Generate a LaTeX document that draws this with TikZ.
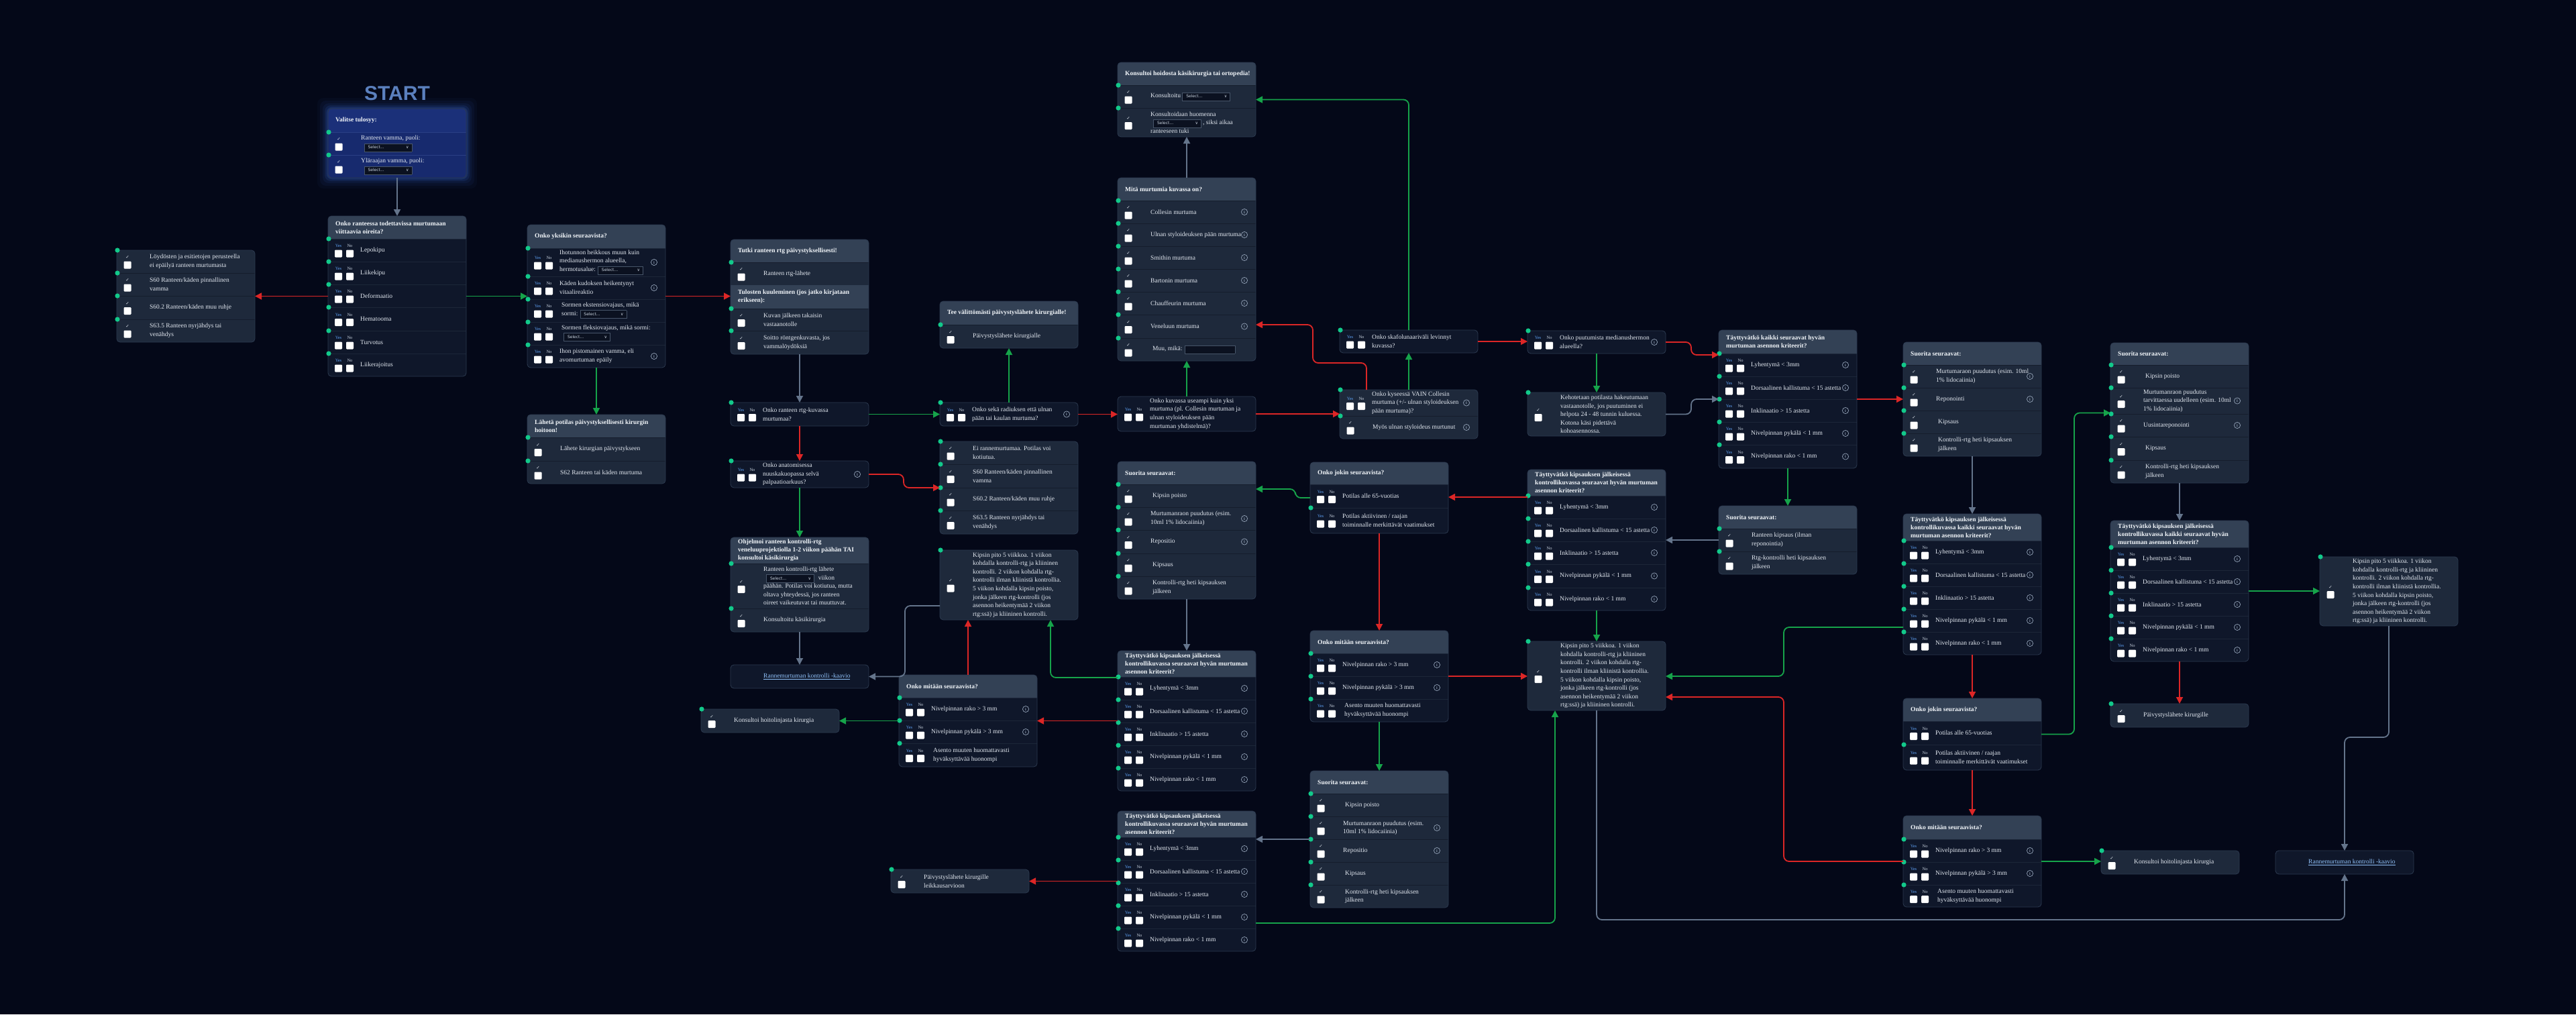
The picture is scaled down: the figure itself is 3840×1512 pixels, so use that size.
\documentclass[tikz,border=0pt]{standalone}
\usepackage{fontspec}
\setmainfont{Liberation Serif}
\newfontfamily\dejavu{DejaVu Sans}
\newfontfamily\startfont{Liberation Sans}
\usetikzlibrary{arrows.meta,calc}

\definecolor{bgcol}{HTML}{040818}
\definecolor{cardL}{HTML}{1E293B}
\definecolor{cardD}{HTML}{0F172A}
\definecolor{cardS}{HTML}{172A6E}
\definecolor{sepL}{HTML}{151D2C}
\definecolor{sepD}{HTML}{1C2638}
\definecolor{sepS}{HTML}{2A3F85}
\definecolor{hdrcol}{HTML}{334155}
\definecolor{starthdr}{HTML}{1B3079}
\definecolor{cardborder}{HTML}{2C3A50}
\definecolor{txtcol}{HTML}{E2E8F0}
\definecolor{hdrtxt}{HTML}{F1F5F9}
\definecolor{yescol}{HTML}{60A5FA}
\definecolor{nocol}{HTML}{CBD5E1}
\definecolor{dotcol}{HTML}{12C98A}
\definecolor{arrgreen}{HTML}{16A34A}
\definecolor{arrred}{HTML}{DC2626}
\definecolor{arrgray}{HTML}{64748B}
\definecolor{linkcol}{HTML}{93C5FD}
\definecolor{startcol}{HTML}{5B80BE}
\definecolor{glowcol}{HTML}{3B6FE0}
\definecolor{infocol}{HTML}{94A3B8}
\definecolor{selfill}{HTML}{0B1120}
\definecolor{selborder}{HTML}{475569}
\definecolor{seltext}{HTML}{CBD5E1}

\tikzset{
  card/.style={rectangle, rounded corners=5pt, inner sep=0pt, outer sep=0pt, draw=none},
  cardline/.style={draw=cardborder, line width=0.8pt},
  txt/.style={anchor=west, align=left, inner sep=0pt, text=txtcol, font=\fontsize{9.5}{12.6}\selectfont},
  htxt/.style={anchor=west, align=left, inner sep=0pt, text=hdrtxt, font=\bfseries\fontsize{9.5}{12}\selectfont},
  chk/.style={inner sep=0pt, text=txtcol, font=\dejavu\fontsize{6.5}{7}\selectfont},
  yn/.style={inner sep=0pt, font=\fontsize{6.5}{7}\selectfont},
  ifont/.style={inner sep=0pt, text=infocol, font=\bfseries\fontsize{6}{6}\selectfont},
  sepline/.style={draw=sepcol, line width=0.8pt},
  arr/.style={line width=1.8pt, rounded corners=8pt, -{Triangle[length=10pt,width=10pt]}},
  garr/.style={arr, draw=arrgreen},
  rarr/.style={arr, draw=arrred},
  gyarr/.style={arr, draw=arrgray}
}

\newcommand\xsel[1][66pt]{{\setlength\fboxsep{2.2pt}\setlength\fboxrule{0.6pt}\fcolorbox{selborder}{selfill}{\makebox[#1][l]{\dejavu\fontsize{6}{7}\selectfont\color{seltext}\rule[-1.8pt]{0pt}{7pt}\hspace{3pt}Select...\hfill ∨\hspace{2pt}}}}}
\newcommand\xinbox[1][70pt]{{\setlength\fboxsep{2.2pt}\setlength\fboxrule{0.6pt}\fcolorbox{selborder}{selfill}{\makebox[#1][l]{\rule[-1.8pt]{0pt}{7pt}}}}}

\protected\def\xdot#1{\fill[dotcol] ({\xcx+1},#1) circle (3.6pt);}
\newcommand\xcard[5]{\gdef\xcx{#2}\gdef\xctop{#3}\gdef\xdotlist{}\colorlet{curfill}{card#5}\colorlet{sepcol}{sep#5}%
  \node[card, fill=curfill, minimum width=206pt, minimum height={(#4-#3)*1pt}] (#1) at ({#2+103},{(#3+#4)/2}) {};}
\newcommand\xend[1]{\draw[cardline, rounded corners=5pt] (#1.north west) rectangle (#1.south east);\xdotlist}
\newcommand\xhdr[4][hdrcol]{%
  \fill[#1, rounded corners=5pt] (\xcx,#3) -- (\xcx,#2) -- ({\xcx+206},#2) -- ({\xcx+206},#3);
  \node[htxt] at ({\xcx+11},{(#2+#3)/2}) {#4};}
\newcommand\xmhdr[3]{\fill[hdrcol] (\xcx,#1) rectangle ({\xcx+206},#2);
  \node[htxt] at ({\xcx+11},{(#1+#2)/2}) {#3};}
\newcommand\xinfo[2]{\draw[infocol, line width=0.7pt] ({#1},{#2}) circle (4.6pt);
  \node[ifont] at ({#1},{#2}) {i};}
\newcommand\xcrow[5]{%
  \pgfmathsetmacro\xrc{(#1+#2)/2}%
  \ifdim#1pt>\xctop pt \draw[sepline] (\xcx,#1) -- ({\xcx+206},#1);\fi
  \node[chk] at ({\xcx+16},{\xrc-6.5}) {✓};
  \fill[white, rounded corners=1.2pt] ({\xcx+10.5},{\xrc-0.5}) rectangle ({\xcx+21.5},{\xrc+10.5});
  \node[txt] at ({\xcx+49},\xrc) {#5};
  \ifnum#4=1 \xinfo{\xcx+189}{\xrc}\fi
  \ifnum#3=1 \xdef\xdotlist{\xdotlist\xdot{#1}}\fi}
\newcommand\xyrow[5]{%
  \pgfmathsetmacro\xrc{(#1+#2)/2}%
  \ifdim#1pt>\xctop pt \draw[sepline] (\xcx,#1) -- ({\xcx+206},#1);\fi
  \node[yn, text=yescol] at ({\xcx+15.5},{\xrc-6.5}) {Yes};
  \node[yn, text=nocol] at ({\xcx+32.5},{\xrc-6.5}) {No};
  \fill[white, rounded corners=1.2pt] ({\xcx+10},{\xrc-0.5}) rectangle ({\xcx+21},{\xrc+10.5});
  \fill[white, rounded corners=1.2pt] ({\xcx+27},{\xrc-0.5}) rectangle ({\xcx+38},{\xrc+10.5});
  \node[txt] at ({\xcx+48},\xrc) {#5};
  \ifnum#4=1 \xinfo{\xcx+189}{\xrc}\fi
  \ifnum#3=1 \xdef\xdotlist{\xdotlist\xdot{#1}}\fi}
\newcommand\xlrow[2]{\node[txt, text=linkcol] at ({\xcx+49},{(#1+#2)/2}) {\underline{Rannemurtuman kontrolli -kaavio}};}
\newcommand\xcrit[6]{%
  \xyrow{#1}{#2}{1}{1}{Lyhentymä < 3mm}
  \xyrow{#2}{#3}{1}{1}{Dorsaalinen kallistuma < 15 astetta}
  \xyrow{#3}{#4}{1}{1}{Inklinaatio > 15 astetta}
  \xyrow{#4}{#5}{1}{1}{Nivelpinnan pykälä < 1 mm}
  \xyrow{#5}{#6}{1}{1}{Nivelpinnan rako < 1 mm}}
\newcommand\xsuor[6]{%
  \xcrow{#1}{#2}{1}{0}{\hspace*{3pt}Kipsin poisto}
  \xcrow{#2}{#3}{1}{1}{Murtumanraon puudutus (esim.\\10ml 1\% lidocaiinia)}
  \xcrow{#3}{#4}{1}{1}{Repositio}
  \xcrow{#4}{#5}{1}{0}{\hspace*{3pt}Kipsaus}
  \xcrow{#5}{#6}{1}{0}{\hspace*{3pt}Kontrolli-rtg heti kipsauksen\\\hspace*{3pt}jälkeen}}
\newcommand\xmitaan[4]{%
  \xyrow{#1}{#2}{1}{1}{Nivelpinnan rako > 3 mm}
  \xyrow{#2}{#3}{1}{1}{Nivelpinnan pykälä > 3 mm}
  \xyrow{#3}{#4}{1}{0}{\hspace*{3pt}Asento muuten huomattavasti\\\hspace*{3pt}hyväksyttävää huonompi}}
\newcommand\xkips{Kipsin pito 5 viikkoa. 1 viikon\\kohdalla kontrolli-rtg ja kliininen\\kontrolli. 2 viikon kohdalla rtg-\\kontrolli ilman kliinistä kontrollia.\\5 viikon kohdalla kipsin poisto,\\jonka jälkeen rtg-kontrolli (jos\\asennon heikentymää 2 viikon\\rtg:ssä) ja kliininen kontrolli.}
\newcommand\xtaytt{Täyttyvätkö kipsauksen jälkeisessä\\kontrollikuvassa seuraavat hyvän murtuman\\asennon kriteerit?}
\newcommand\xtayttk{Täyttyvätkö kipsauksen jälkeisessä\\kontrollikuvassa kaikki seuraavat hyvän\\murtuman asennon kriteerit?}

\begin{document}
\begin{tikzpicture}[x=1pt, y=-1pt]
\fill[bgcol] (0,0) rectangle (3840,1512);
\useasboundingbox (0,0) rectangle (3840,1512);

% START
\node[font=\startfont\bfseries\fontsize{30}{30}\selectfont, text=startcol] (start) at (592,139) {START};
\foreach \g/\o in {16/0.04,12/0.06,8/0.08,5/0.12,2.5/0.18}{
  \fill[glowcol, opacity=\o, rounded corners=9pt] ({489-\g},{162-\g}) rectangle ({695+\g},{265+\g});}
\xcard{N1}{489}{162}{265}{S}
\xhdr[starthdr]{162}{197}{Valitse tulosyy:}
\xcrow{197}{231}{1}{0}{Ranteen vamma, puoli:\\[1pt]\hspace*{4.5pt}\xsel}
\xcrow{231}{265}{1}{0}{Yläraajan vamma, puoli:\\[1pt]\hspace*{4.5pt}\xsel}
\xend{N1}

\xcard{N2}{489}{322}{561}{D}
\xhdr{322}{356}{Onko ranteessa todettavissa murtumaan\\viittaavia oireita?}
\xyrow{356}{390}{1}{0}{Lepokipu}
\xyrow{390}{424}{1}{0}{Liikekipu}
\xyrow{424}{458}{1}{0}{Deformaatio}
\xyrow{458}{493}{1}{0}{Hematooma}
\xyrow{493}{527}{1}{0}{Turvotus}
\xyrow{527}{561}{1}{0}{Liikerajoitus}
\xend{N2}

\xcard{N3}{174}{373}{510}{L}
\xcrow{373}{407}{1}{0}{Löydösten ja esitietojen perusteella\\ei epäilyä ranteen murtumasta}
\xcrow{407}{441}{1}{0}{S60 Ranteen/käden pinnallinen\\vamma}
\xcrow{441}{476}{1}{0}{S60.2 Ranteen/käden muu ruhje}
\xcrow{476}{510}{1}{0}{S63.5 Ranteen nyrjähdys tai\\venähdys}
\xend{N3}

\xcard{N4}{786}{335}{548}{D}
\xhdr{335}{370}{Onko yksikin seuraavista?}
\xyrow{370}{412}{1}{1}{Ihotunnon heikkous muun kuin\\medianushermon alueella,\\hermotusalue: \xsel[62pt]}
\xyrow{412}{446}{1}{1}{Käden kudoksen heikentynyt\\vitaalireaktio}
\xyrow{446}{480}{1}{0}{\hspace*{3pt}Sormen ekstensiovajaus, mikä\\\hspace*{3pt}sormi: \xsel[64pt]}
\xyrow{480}{514}{1}{0}{\hspace*{3pt}Sormen fleksiovajaus, mikä sormi:\\\hspace*{6pt}\xsel[64pt]}
\xyrow{514}{548}{1}{1}{Ihon pistomainen vamma, eli\\avomurtuman epäily}
\xend{N4}

\xcard{N5}{786}{618}{721}{L}
\xhdr{618}{652}{Lähetä potilas päivystyksellisesti kirurgin\\hoitoon!}
\xcrow{652}{687}{1}{0}{Lähete kirurgian päivystykseen}
\xcrow{687}{721}{1}{0}{S62 Ranteen tai käden murtuma}
\xend{N5}

\xcard{N6}{1089}{357}{528}{L}
\xhdr{357}{391}{Tutki ranteen rtg päivystyksellisesti!}
\xcrow{391}{425}{1}{0}{Ranteen rtg-lähete}
\xmhdr{425}{460}{Tulosten kuuleminen (jos jatko kirjataan\\erikseen):}
\xcrow{460}{493}{1}{0}{Kuvan jälkeen takaisin\\vastaanotolle}
\xcrow{493}{528}{1}{0}{Soitto röntgenkuvasta, jos\\vammalöydöksiä}
\xend{N6}

\xcard{N7}{1089}{600}{635}{D}
\xyrow{600}{635}{1}{0}{Onko ranteen rtg-kuvassa\\murtumaa?}
\xend{N7}

\xcard{N8}{1089}{687}{727}{D}
\xyrow{687}{727}{1}{1}{Onko anatomisessa\\nuuskakuopassa selvä\\palpaatioarkuus?}
\xend{N8}

\xcard{N9}{1089}{801}{942}{L}
\xhdr{801}{840}{Ohjelmoi ranteen kontrolli-rtg\\veneluuprojektiolla 1-2 viikon päähän TAI\\konsultoi käsikirurgia}
\xcrow{840}{907}{1}{0}{Ranteen kontrolli-rtg lähete\\\hspace*{4pt}\xsel[66pt]\hspace{6pt}viikon\\päähän. Potilas voi kotiutua, mutta\\oltava yhteydessä, jos ranteen\\oireet vaikeutuvat tai muuttuvat.}
\xcrow{907}{942}{1}{0}{Konsultoitu käsikirurgia}
\xend{N9}

\xcard{N10}{1089}{991}{1026}{D}
\xlrow{991}{1026}
\xend{N10}

\xcard{N11}{1401}{449}{519}{L}
\xhdr{449}{484}{Tee välittömästi päivystyslähete kirurgialle!}
\xcrow{484}{519}{1}{0}{Päivystyslähete kirurgialle}
\xend{N11}

\xcard{N12}{1401}{600}{635}{D}
\xyrow{600}{635}{1}{1}{Onko sekä radiuksen että ulnan\\pään tai kaulan murtuma?}
\xend{N12}

\xcard{N13}{1401}{658}{796}{L}
\xcrow{658}{692}{1}{0}{Ei rannemurtumaa. Potilas voi\\kotiutua.}
\xcrow{692}{727}{1}{0}{S60 Ranteen/käden pinnallinen\\vamma}
\xcrow{727}{761}{1}{0}{S60.2 Ranteen/käden muu ruhje}
\xcrow{761}{796}{1}{0}{S63.5 Ranteen nyrjähdys tai\\venähdys}
\xend{N13}

\xcard{N14}{1401}{820}{924}{L}
\xcrow{820}{924}{1}{0}{\xkips}
\xend{N14}

\xcard{N15}{1340}{1006}{1143}{D}
\xhdr{1006}{1040}{Onko mitään seuraavista?}
\xmitaan{1040}{1074}{1108}{1143}
\xend{N15}

\xcard{N16}{1045}{1057}{1092}{L}
\xcrow{1057}{1092}{1}{0}{Konsultoi hoitolinjasta kirurgia}
\xend{N16}

\xcard{N44}{1328}{1296}{1331}{L}
\xcrow{1296}{1331}{1}{0}{Päivystyslähete kirurgille\\leikkausarvioon}
\xend{N44}

\xcard{N17}{1666}{93}{204}{L}
\xhdr{93}{127}{Konsultoi hoidosta käsikirurgia tai ortopedia!}
\xcrow{127}{161}{1}{0}{Konsultoitu \xsel[66pt]}
\xcrow{161}{204}{1}{0}{Konsultoidaan huomenna\\\hspace*{4pt}\xsel[66pt] , siksi aikaa\\ranteeseen tuki}
\xend{N17}

\xcard{N18}{1666}{265}{538}{L}
\xhdr{265}{299}{Mitä murtumia kuvassa on?}
\xcrow{299}{333}{1}{1}{Collesin murtuma}
\xcrow{333}{367}{1}{1}{Ulnan styloideuksen pään murtuma}
\xcrow{367}{401}{1}{1}{Smithin murtuma}
\xcrow{401}{435}{1}{1}{Bartonin murtuma}
\xcrow{435}{469}{1}{1}{Chauffeurin murtuma}
\xcrow{469}{504}{1}{1}{Veneluun murtuma}
\xcrow{504}{538}{1}{0}{\hspace*{3pt}Muu, mikä: \xinbox[70pt]}
\xend{N18}

\xcard{N19}{1666}{591}{643}{D}
\xyrow{591}{643}{0}{0}{Onko kuvassa useampi kuin yksi\\murtuma (pl. Collesin murtuman ja\\ulnan styloideuksen pään\\murtuman yhdistelmä)?}
\xend{N19}

\xcard{N20}{1997}{492}{526}{D}
\xyrow{492}{526}{1}{0}{Onko skafolunaariväli levinnyt\\kuvassa?}
\xend{N20}

\xcard{N21}{1997}{581}{654}{L}
\xyrow{581}{620}{1}{1}{Onko kyseessä VAIN Collesin\\murtuma (+/- ulnan styloideuksen\\pään murtuma)?}
\xcrow{620}{654}{1}{1}{Myös ulnan styloideus murtunut}
\xend{N21}

\xcard{N22}{1666}{688}{893}{L}
\xhdr{688}{722}{Suorita seuraavat:}
\xsuor{722}{756}{790}{825}{859}{893}
\xend{N22}

\xcard{N23}{1666}{970}{1179}{D}
\xhdr{970}{1009}{\xtaytt}
\xcrit{1009}{1043}{1077}{1111}{1145}{1179}
\xend{N23}

\xcard{N24}{1666}{1209}{1418}{D}
\xhdr{1209}{1248}{\xtaytt}
\xcrit{1248}{1282}{1316}{1350}{1384}{1418}
\xend{N24}

\xcard{N25}{1953}{689}{795}{D}
\xhdr{689}{722}{Onko jokin seuraavista?}
\xyrow{722}{757}{0}{0}{Potilas alle 65-vuotias}
\xyrow{757}{795}{1}{0}{Potilas aktiivinen / raajan\\toiminnalle merkittävät vaatimukset}
\xend{N25}

\xcard{N26}{1953}{940}{1076}{D}
\xhdr{940}{974}{Onko mitään seuraavista?}
\xmitaan{974}{1008}{1042}{1076}
\xend{N26}

\xcard{N27}{1953}{1149}{1353}{L}
\xhdr{1149}{1183}{Suorita seuraavat:}
\xsuor{1183}{1217}{1251}{1285}{1319}{1353}
\xend{N27}

\xcard{N28}{2277}{700}{910}{D}
\xhdr{700}{739}{\xtaytt}
\xcrit{739}{773}{807}{841}{876}{910}
\xend{N28}

\xcard{N29}{2277}{493}{527}{D}
\xyrow{493}{527}{1}{1}{Onko puutumista medianushermon\\alueella?}
\xend{N29}

\xcard{N30}{2277}{585}{650}{L}
\xcrow{585}{650}{1}{0}{Kehotetaan potilasta hakeutumaan\\vastaanotolle, jos puutuminen ei\\helpota 24 - 48 tunnin kuluessa.\\Kotona käsi pidettävä\\kohoasennossa.}
\xend{N30}

\xcard{N31}{2277}{956}{1059}{L}
\xcrow{956}{1059}{1}{0}{\xkips}
\xend{N31}

\xcard{N32}{2562}{492}{698}{D}
\xhdr{492}{527}{Täyttyvätkö kaikki seuraavat hyvän\\murtuman asennon kriteerit?}
\xcrit{527}{561}{595}{629}{663}{698}
\xend{N32}

\xcard{N33}{2562}{754}{856}{L}
\xhdr{754}{788}{Suorita seuraavat:}
\xcrow{788}{822}{1}{0}{Ranteen kipsaus (ilman\\reponointia)}
\xcrow{822}{856}{1}{0}{Rtg-kontrolli heti kipsauksen\\jälkeen}
\xend{N33}

\xcard{N34}{2837}{510}{680}{L}
\xhdr{510}{544}{Suorita seuraavat:}
\xcrow{544}{578}{1}{1}{Murtumaraon puudutus (esim. 10ml\\1\% lidocaiinia)}
\xcrow{578}{612}{1}{1}{Reponointi}
\xcrow{612}{646}{1}{0}{\hspace*{3pt}Kipsaus}
\xcrow{646}{680}{1}{0}{\hspace*{3pt}Kontrolli-rtg heti kipsauksen\\\hspace*{3pt}jälkeen}
\xend{N34}

\xcard{N35}{2837}{766}{976}{D}
\xhdr{766}{806}{\xtayttk}
\xcrit{806}{840}{874}{908}{942}{976}
\xend{N35}

\xcard{N36}{2837}{1041}{1148}{D}
\xhdr{1041}{1075}{Onko jokin seuraavista?}
\xyrow{1075}{1110}{0}{0}{Potilas alle 65-vuotias}
\xyrow{1110}{1148}{1}{0}{Potilas aktiivinen / raajan\\toiminnalle merkittävät vaatimukset}
\xend{N36}

\xcard{N37}{2837}{1216}{1352}{D}
\xhdr{1216}{1251}{Onko mitään seuraavista?}
\xmitaan{1251}{1285}{1319}{1352}
\xend{N37}

\xcard{N38}{3132}{1268}{1303}{L}
\xcrow{1268}{1303}{1}{0}{Konsultoi hoitolinjasta kirurgia}
\xend{N38}

\xcard{N39}{3392}{1268}{1303}{D}
\xlrow{1268}{1303}
\xend{N39}

\xcard{N40}{3146}{511}{720}{L}
\xhdr{511}{544}{Suorita seuraavat:}
\xcrow{544}{578}{1}{0}{\hspace*{3pt}Kipsin poisto}
\xcrow{578}{617}{1}{1}{Murtumanraon puudutus\\tarvittaessa uudelleen (esim. 10ml\\1\% lidocaiinia)}
\xcrow{617}{651}{1}{1}{Uusintareponointi}
\xcrow{651}{686}{1}{0}{\hspace*{3pt}Kipsaus}
\xcrow{686}{720}{1}{0}{\hspace*{3pt}Kontrolli-rtg heti kipsauksen\\\hspace*{3pt}jälkeen}
\xend{N40}

\xcard{N41}{3146}{776}{986}{D}
\xhdr{776}{816}{\xtayttk}
\xcrit{816}{850}{884}{918}{952}{986}
\xend{N41}

\xcard{N42}{3146}{1049}{1084}{L}
\xcrow{1049}{1084}{1}{0}{Päivystyslähete kirurgille}
\xend{N42}

\xcard{N43}{3458}{830}{933}{L}
\xcrow{830}{933}{1}{0}{\xkips}
\xend{N43}

% connectors
\draw[gyarr] (N1.south) -- (N2.north);
\draw[rarr] (N2.west) -- (N3.east);
\draw[garr] (N2.east) -- (N4.west);
\draw[garr] (N4.south) -- (N5.north);
\draw[rarr] (N4.east) -- (N6.west |- N4.east);
\draw[gyarr] (N6.south) -- (N7.north);
\draw[garr] (N7.east) -- (N12.west);
\draw[rarr] (N7.south) -- (N8.north);
\draw[rarr] (N8.east) -- ++(52,0) |- (N13.west);
\draw[garr] (N8.south) -- (N9.north);
\draw[gyarr] (N9.south) -- (N10.north);
\draw[garr] (N12.north) -- (N11.south);
\draw[rarr] (N12.east) -- (N19.west |- N12.east);
\draw[gyarr] (N14.west |- 0,903) -- ++(-52,0) |- (N10.east);
\draw[rarr] (N15.north) -- (N15.north |- N14.south);
\draw[garr] (N15.west) -- (N16.east);
\draw[garr] (N23.west |- 0,1010) -| (N14.south -| 1566,0);
\draw[rarr] (N23.west) -- (N15.east |- N23.west);
\draw[rarr] (N24.west) -- (N44.east |- N24.west);
\draw[garr] (N24.east |- 0,1376) -| (N31.south -| 2318,0);
\draw[gyarr] (N22.south) -- (N23.north);
\draw[garr] (N19.north) -- (N18.south);
\draw[gyarr] (N18.north) -- (N17.south);
\draw[rarr] (N19.east) -- (N21.west |- N19.east);
\draw[garr] (N21.north) -- (N20.south);
\draw[rarr] (N21.north -| 2037,0) |- (1957,541) |- (N18.east |- 0,484);
\draw[garr] (N20.north) |- (N17.east);
\draw[rarr] (N20.east) -- (N29.west |- N20.east);
\draw[garr] (N29.south) -- (N30.north);
\draw[rarr] (N29.east) -- ++(38,0) |- (N32.west |- 0,529);
\draw[gyarr] (N30.east) -- ++(38,0) |- (N32.west);
\draw[garr] (N32.south) -- (N33.north);
\draw[rarr] (N32.east) -- (N34.west |- N32.east);
\draw[gyarr] (N33.west) -- (N28.east |- N33.west);
\draw[garr] (N28.south) -- (N31.north);
\draw[rarr] (N28.west |- 0,741) -- (N25.east |- 0,741);
\draw[garr] (N25.west) -- ++(-22,0) |- (N22.east |- 0,729);
\draw[rarr] (N25.south) -- (N26.north);
\draw[garr] (N26.south) -- (N27.north);
\draw[rarr] (N26.east) -- (N31.west |- N26.east);
\draw[gyarr] (N27.west) -- (N24.east |- N27.west);
\draw[gyarr] (N34.south) -- (N35.north);
\draw[rarr] (N35.south) -- (N36.north);
\draw[rarr] (N36.south) -- (N37.north);
\draw[garr] (N35.west |- 0,935) -- ++(-178,0) |- (N31.east |- 0,1008);
\draw[rarr] (N37.west) -- ++(-178,0) |- (N31.east |- 0,1039);
\draw[garr] (N37.east) -- (N38.west |- N37.east);
\draw[garr] (N36.east) -- ++(49,0) |- (N40.west);
\draw[gyarr] (N40.south) -- (N41.north);
\draw[garr] (N41.east) -- (N43.west |- N41.east);
\draw[rarr] (N41.south) -- (N42.north);
\draw[gyarr] (N43.south) -- ++(0,166) -| (N39.north);
\draw[gyarr] (N31.south) -- ++(0,312) -| (N39.south);
\end{tikzpicture}
\end{document}
